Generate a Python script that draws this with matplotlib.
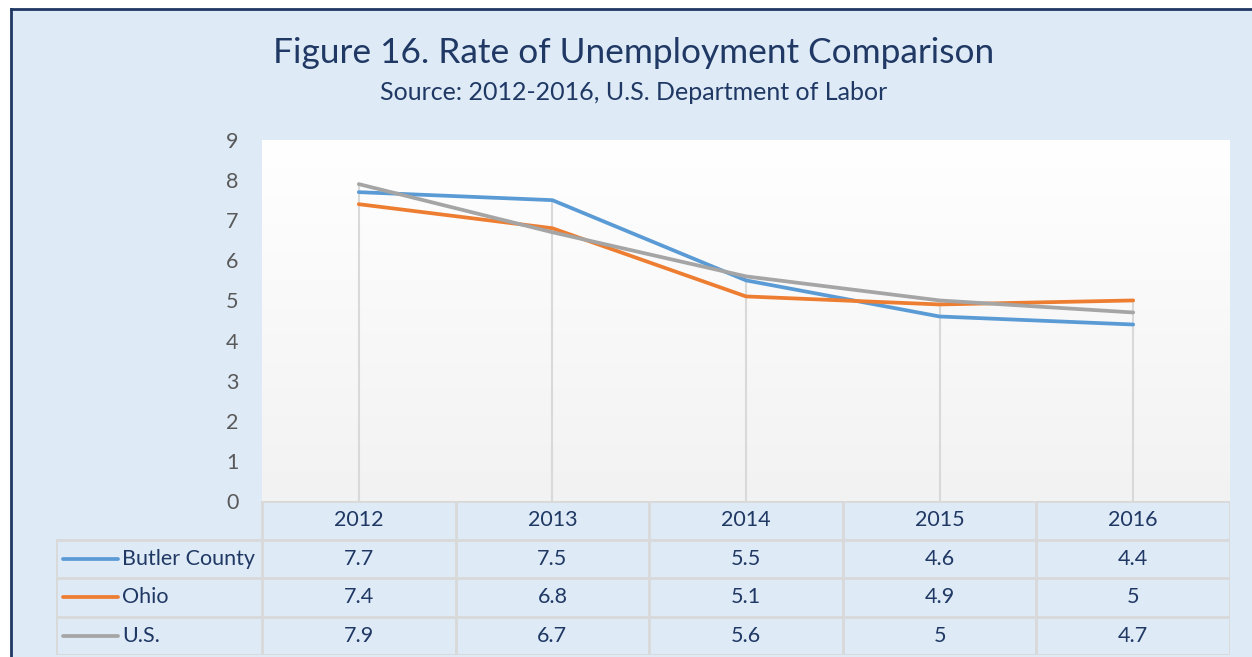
import numpy as np
import matplotlib
matplotlib.use('Agg')
import matplotlib.pyplot as plt

years = ['2012', '2013', '2014', '2015', '2016']
butler = [7.7, 7.5, 5.5, 4.6, 4.4]
ohio = [7.4, 6.8, 5.1, 4.9, 5]
us = [7.9, 6.7, 5.6, 5, 4.7]
series_names = ['Butler County', 'Ohio', 'U.S.']
series_colors = ['#5B9BD5', '#ED7D31', '#A5A5A5']
yticks = list(range(0, 10))

W, H = 1252, 657
BG = '#DEEAF6'
NAVY = '#1F3864'
GRID = '#D9D9D9'

plt.rcParams['font.family'] = ['Lato', 'DejaVu Sans']

def px(x0, y0, x1, y1):
	# pixel box -> figure fraction rect
	return [x0 / W, 1 - y1 / H, (x1 - x0) / W, (y1 - y0) / H]

fig = plt.figure(figsize=(W / 100, H / 100), dpi=100)
fig.patch.set_facecolor('white')

# background panel with navy border
bg = fig.add_axes(px(11, 9, W + 5, H + 5))
bg.set_facecolor(BG)
bg.set_xticks([])
bg.set_yticks([])
for s in bg.spines.values():
	s.set_color(NAVY)
	s.set_linewidth(2)

fig.text(634 / W, 1 - 53 / H, 'Figure 16. Rate of Unemployment Comparison',
	ha='center', va='center', fontsize=25.4, color=NAVY)
fig.text(634 / W, 1 - 93 / H, 'Source: 2012-2016, U.S. Department of Labor',
	ha='center', va='center', fontsize=18, color=NAVY)

#----------------------------------------------------------------------
# chart
ax = fig.add_axes(px(262, 140, 1230, 501))
x = np.arange(len(years))
ax.set_xlim(-0.5, len(years) - 0.5)
ax.set_ylim(0, 9)

grad = np.linspace(1, 0, 256).reshape(-1, 1)
top = np.array([1.0, 1.0, 1.0])
bot = np.array([0.949, 0.949, 0.949])
img = bot + (top - bot) * grad[..., None]
ax.imshow(img.reshape(256, 1, 3), extent=(-0.5, len(years) - 0.5, 0, 9),
	aspect='auto', zorder=0, origin='upper')

all_vals = np.array([butler, ohio, us])
ax.vlines(x, 0, all_vals.max(axis=0), color=GRID, linewidth=1.5, zorder=1)

for vals, c in zip([butler, ohio, us], series_colors):
	ax.plot(x, vals, color=c, linewidth=2.7, solid_capstyle='round', zorder=3)

ax.set_yticks(yticks)
ax.set_yticklabels([str(v) for v in yticks], fontsize=15.5, color='#595959')
ax.tick_params(axis='y', length=0, pad=17)
ax.set_xticks([])
for s in ax.spines.values():
	s.set_visible(False)

#----------------------------------------------------------------------
# data table
tb = fig.add_axes(px(56, 501, 1230, 655))
cw = 193.6
left = -0.5 - 206 / cw
tb.set_xlim(left, len(years) - 0.5)
tb.set_ylim(0, 4)
tb.set_facecolor('none')
tb.axis('off')

lw = 2
# header row
tb.plot([-0.5, len(years) - 0.5], [4, 4], color=GRID, lw=lw)
for i in range(len(years) + 1):
	tb.plot([i - 0.5, i - 0.5], [0, 4], color=GRID, lw=lw)
for j in range(4):
	tb.plot([left, len(years) - 0.5], [j, j], color=GRID, lw=lw)
tb.plot([left, left], [0, 3], color=GRID, lw=lw)

for i, yr in enumerate(years):
	tb.text(i, 3.5, yr, ha='center', va='center', fontsize=15.5, color=NAVY)

for r, (name, vals, c) in enumerate(zip(series_names, [butler, ohio, us], series_colors)):
	yc = 2.5 - r
	tb.plot([left + 7 / cw, left + 62 / cw], [yc, yc], color=c, lw=2.7, solid_capstyle='round')
	tb.text(left + 66 / cw, yc, name, ha='left', va='center', fontsize=15.5, color=NAVY)
	for i, v in enumerate(vals):
		tb.text(i, yc, '{:g}'.format(v), ha='center', va='center', fontsize=15.5, color=NAVY)

fig.savefig('out.png', dpi=100, facecolor=fig.get_facecolor())
